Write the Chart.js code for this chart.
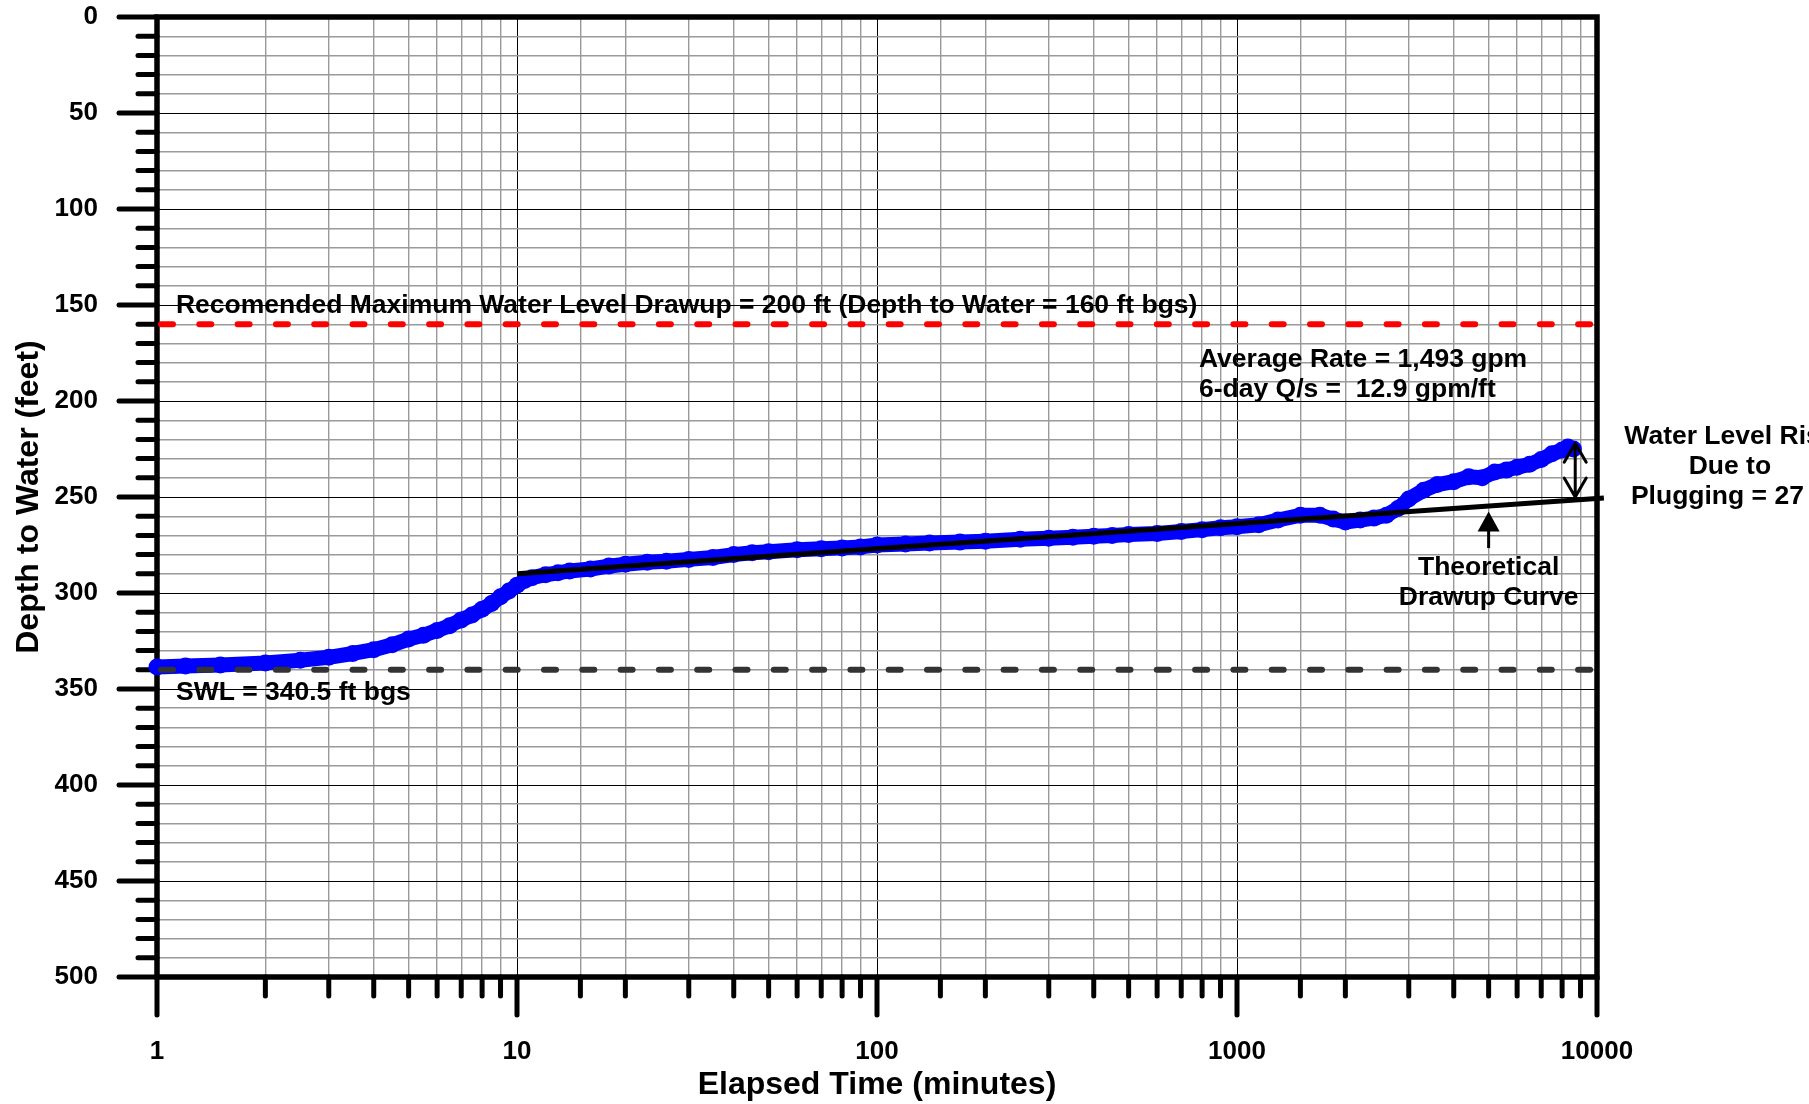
<!DOCTYPE html>
<html><head><meta charset="utf-8">
<script src="https://cdn.jsdelivr.net/npm/chart.js@4.4.1/dist/chart.umd.min.js"></script>
<style>html,body{margin:0;padding:0;background:#fff;overflow:hidden}#wrap{width:1809px;height:1104px;position:relative}canvas{display:block}</style>
</head><body><div id="wrap"><canvas id="c" width="1809" height="1104"></canvas></div>
<script>
// ---- data ----
const elapsedMinutes = [1, 1.2, 1.5, 2, 2.5, 3, 3.5, 4, 4.5, 5, 5.5, 6, 6.5, 7, 7.5, 8, 8.5, 9, 9.5, 10,
  10.5, 11, 12, 13, 14, 16, 18, 20, 23, 26, 30, 35, 40, 45, 50, 60, 70, 80, 90, 100,
  120, 140, 170, 200, 250, 300, 350, 400, 450, 500, 600, 700, 800, 900, 1000, 1150, 1300, 1500, 1700, 1850,
  2000, 2200, 2400, 2600, 2800, 3000, 3300, 3600, 4000, 4400, 4800, 5200, 5600, 6000, 6500, 7000, 7500, 8000, 8300, 8600];
const depthToWater = [338.5, 338, 337.5, 336.5, 335, 333.5, 331.5, 329.5, 327, 324, 322, 319.5, 317, 314, 311.5, 308.5, 305.5, 302, 299, 296,
  293.5, 292, 290.5, 289.5, 288.5, 287.5, 286, 285, 284, 283.5, 282.5, 281.5, 280, 279, 278.5, 277.5, 277, 276.5, 276, 275,
  274.5, 274, 273.5, 273, 272, 271.5, 271, 270.5, 270, 269.5, 269, 268, 267, 266, 265.5, 264.5, 262, 259.5, 259.5, 261.5,
  263, 262, 261, 259.5, 256, 251, 246.5, 243.5, 242, 239.5, 240, 237, 236, 234.5, 233, 230.5, 227.5, 225.5, 224, 225];
const theoreticalTime = [10, 10450];
const theoreticalDepth = [290, 250.5];
const maxLevelDepth = 160;
const swlDepth = 340;
const xRange = [1, 10000];
const yRange = [0, 500];
const xTickLabels = ['1', '10', '100', '1000', '10000'];
const yTickLabels = ['0', '50', '100', '150', '200', '250', '300', '350', '400', '450', '500'];

const FONT = '"Liberation Sans", Arial, Helvetica, sans-serif';
const isDecade = v => Math.abs(Math.log10(v) - Math.round(Math.log10(v))) < 1e-9;

const mainPoints = elapsedMinutes.map((t, i) => ({x: t, y: depthToWater[i]}));
const theoPoints = theoreticalTime.map((t, i) => ({x: t, y: theoreticalDepth[i]}));
const maxLine = xRange.map(t => ({x: t, y: maxLevelDepth}));
const swlLine = xRange.map(t => ({x: t, y: swlDepth}));

const framePlugin = {
  id: 'frame',
  beforeDatasetsDraw(chart) {
    const {ctx, chartArea: a, scales: {x, y}} = chart;
    ctx.save();
    ctx.strokeStyle = '#000';
    ctx.lineWidth = 5;
    ctx.lineCap = 'round';
    y.ticks.forEach(t => {
      const py = y.getPixelForValue(t.value);
      const len = t.value % 50 === 0 ? 38 : 19;
      ctx.beginPath(); ctx.moveTo(a.left - len, py); ctx.lineTo(a.left, py); ctx.stroke();
    });
    x.ticks.forEach(t => {
      const px = x.getPixelForValue(t.value);
      const len = isDecade(t.value) ? 38 : 19;
      ctx.beginPath(); ctx.moveTo(px, a.bottom); ctx.lineTo(px, a.bottom + len); ctx.stroke();
    });
    ctx.lineCap = 'butt';
    ctx.lineJoin = 'miter';
    ctx.lineWidth = 5.5;
    ctx.strokeRect(a.left, a.top, a.right - a.left, a.bottom - a.top);
    ctx.restore();
  },
  afterDatasetsDraw(chart) {
    const {ctx, scales: {x, y}} = chart;
    const P = (t, d) => [x.getPixelForValue(t), y.getPixelForValue(d)];
    ctx.save();
    ctx.fillStyle = '#000';
    ctx.strokeStyle = '#000';
    ctx.font = 'bold 26.5px ' + FONT;
    ctx.textBaseline = 'alphabetic';
    const txt = (s, t, d, align) => { const [px, py] = P(t, d); ctx.textAlign = align; ctx.fillText(s, px, py); };
    txt('Recomended Maximum Water Level Drawup = 200 ft (Depth to Water = 160 ft bgs)', 1.129, 154.2, 'left');
    txt('SWL = 340.5 ft bgs', 1.129, 355.7, 'left');
    txt('Average Rate = 1,493 gpm', 784, 182.3, 'left');
    txt('6-day Q/s =  12.9 gpm/ft', 784, 197.9, 'left');
    txt('Theoretical', 5000, 290.6, 'center');
    txt('Drawup Curve', 5000, 306.3, 'center');
    txt('Water Level Rise', 23400, 222.4, 'center');
    txt('Due to', 23400, 238, 'center');
    txt('Plugging = 27 ft', 23400, 253.6, 'center');

    // double arrow
    ctx.lineWidth = 3;
    ctx.lineCap = 'round';
    ctx.lineJoin = 'round';
    const [ax, aTop] = P(8700, 222);
    const [, aBot] = P(8700, 250);
    ctx.beginPath();
    ctx.moveTo(ax, aTop); ctx.lineTo(ax, aBot);
    ctx.moveTo(ax - 11, aTop + 19); ctx.lineTo(ax, aTop); ctx.lineTo(ax + 11, aTop + 19);
    ctx.moveTo(ax - 11, aBot - 19); ctx.lineTo(ax, aBot); ctx.lineTo(ax + 11, aBot - 19);
    ctx.stroke();

    // up arrow
    const [ux, uTip] = P(5000, 257.6);
    const [, uBase] = P(5000, 268);
    const [, uEnd] = P(5000, 276.6);
    ctx.beginPath();
    ctx.moveTo(ux, uTip); ctx.lineTo(ux - 11, uBase); ctx.lineTo(ux + 11, uBase); ctx.closePath();
    ctx.fill();
    ctx.lineCap = 'butt';
    ctx.beginPath(); ctx.moveTo(ux, uBase - 1); ctx.lineTo(ux, uEnd); ctx.stroke();
    ctx.restore();
  }
};

new Chart(document.getElementById('c'), {
  type: 'scatter',
  data: {
    datasets: [
      {data: theoPoints, showLine: true, borderColor: '#000', borderWidth: 5, pointRadius: 0, clip: false, order: 1},
      {data: maxLine, showLine: true, borderColor: '#ff0000', borderWidth: 6, borderDash: [12, 26.3], borderDashOffset: -4, borderCapStyle: 'round', pointRadius: 0, order: 2},
      {data: swlLine, showLine: true, borderColor: '#333333', borderWidth: 6, borderDash: [12, 26.3], borderDashOffset: -4, borderCapStyle: 'round', pointRadius: 0, order: 3},
      {data: mainPoints, showLine: true, borderColor: '#0000ff', borderWidth: 15, borderJoinStyle: 'round', borderCapStyle: 'round',
       pointRadius: 8.5, pointBackgroundColor: '#0000ff', pointBorderWidth: 0, clip: false, order: 5}
    ]
  },
  options: {
    responsive: false,
    animation: false,
    devicePixelRatio: 1,
    layout: {padding: {top: 17, right: 212, left: 0, bottom: 0}},
    plugins: {legend: {display: false}, tooltip: {enabled: false}},
    events: [],
    scales: {
      x: {
        type: 'logarithmic', min: xRange[0], max: xRange[1], position: 'bottom',
        afterFit: s => { s.height = 127; s.paddingLeft = 0; s.paddingRight = 0; },
        border: {display: false},
        grid: {drawTicks: false,
          color: c => (c.tick && isDecade(c.tick.value)) ? '#000' : '#9a9a9a',
          lineWidth: c => (c.tick && isDecade(c.tick.value)) ? 1 : 1.4},
        ticks: {autoSkip: false, maxRotation: 0, padding: 59, color: '#000',
          font: {family: FONT, size: 26, weight: 'bold'},
          callback: v => isDecade(v) ? xTickLabels[Math.round(Math.log10(v))] : ''},
        title: {display: true, text: 'Elapsed Time (minutes)', color: '#000',
          font: {family: FONT, size: 32, weight: 'bold'}, padding: {top: 0, bottom: 0}}
      },
      y: {
        type: 'linear', min: yRange[0], max: yRange[1], reverse: true,
        afterFit: s => { s.width = 157; s.paddingTop = 0; s.paddingBottom = 0; },
        border: {display: false},
        grid: {drawTicks: false,
          color: c => (c.tick && c.tick.value % 50 === 0) ? '#000' : '#9a9a9a',
          lineWidth: c => (c.tick && c.tick.value % 50 === 0) ? 1 : 1.4},
        ticks: {stepSize: 10, autoSkip: false, padding: 59, color: '#000',
          font: {family: FONT, size: 26, weight: 'bold'},
          callback: v => v % 50 === 0 ? yTickLabels[v / 50] : ''},
        title: {display: true, text: 'Depth to Water (feet)', color: '#000',
          font: {family: FONT, size: 32, weight: 'bold'}, padding: {top: 10, bottom: 0}}
      }
    }
  },
  plugins: [framePlugin]
});
</script>
</body></html>
